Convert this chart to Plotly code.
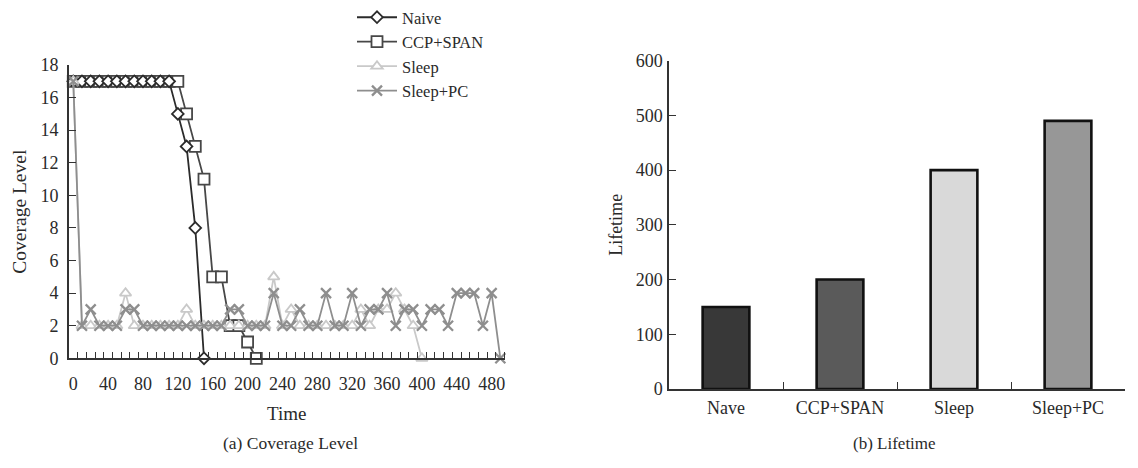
import plotly.graph_objects as go

# ---------------- data ----------------
time = [0, 10, 20, 30, 40, 50, 60, 70, 80, 90,
        100, 110, 120, 130, 140, 150, 160, 170, 180, 190,
        200, 210, 220, 230, 240, 250, 260, 270, 280, 290,
        300, 310, 320, 330, 340, 350, 360, 370, 380, 390,
        400, 410, 420, 430, 440, 450, 460, 470, 480, 490]

naive = [17, 17, 17, 17, 17, 17, 17, 17, 17, 17, 17, 17, 15, 13, 8, 0]

ccp_span = [17, 17, 17, 17, 17, 17, 17, 17, 17, 17, 17, 17, 17,
            15, 13, 11, 5, 5, 2, 2, 1, 0]

sleep = [17, 2, 2, 2, 2, 2, 4, 2, 2, 2,
         2, 2, 2, 3, 2, 2, 2, 2, 2, 2,
         2, 2, 2, 5, 2, 3, 2, 2, 2, 2,
         2, 2, 2, 3, 2, 3, 3, 4, 3, 2,
         0]

sleep_pc = [17, 2, 3, 2, 2, 2, 3, 3, 2, 2,
            2, 2, 2, 2, 2, 2, 2, 2, 3, 3,
            2, 2, 2, 4, 2, 2, 3, 2, 2, 4,
            2, 2, 4, 2, 3, 3, 4, 2, 3, 3,
            2, 3, 3, 2, 4, 4, 4, 2, 4, 0]

x_tick_labels = [0, 40, 80, 120, 160, 200, 240, 280, 320, 360, 400, 440, 480]

bar_categories = ["Nave", "CCP+SPAN", "Sleep", "Sleep+PC"]
lifetime = [150, 200, 400, 490]

# ---------------- styling ----------------
OFF = 8                      # default page body margin
W, H = 1138 - OFF, 468 - OFF
FONT = "Liberation Serif, Times New Roman, serif"
AX = "#333333"
TXT = "#2a2a2a"


def px(x):
    return (x - OFF) / W


def py(y):
    return 1 - (y - OFF) / H


fig = go.Figure()

series = [
    # name, y, line color, symbol, size, fill, rank
    ("CCP+SPAN", ccp_span, "#474747", "square", 11, "white", 2),
    ("Naive", naive, "#2b2b2b", "diamond", 9, "white", 1),
    ("Sleep", sleep, "#c9c9c9", "triangle-up", 10, "white", 3),
    ("Sleep+PC", sleep_pc, "#8e8e8e", "x-thin", 10, "#8e8e8e", 4),
]

for name, ys, col, sym, size, fill, rank in series:
    fig.add_trace(go.Scatter(
        x=time[:len(ys)], y=ys, name=name, mode="lines+markers",
        line=dict(color=col, width=1.8),
        marker=dict(symbol=sym, size=size, color=fill,
                    line=dict(color=col, width=2.3 if sym == "x-thin" else 1.8)),
        legendrank=rank, cliponaxis=False,
        xaxis="x", yaxis="y",
    ))

fig.add_trace(go.Bar(
    x=bar_categories, y=lifetime,
    marker=dict(color=["#383838", "#5a5a5a", "#d9d9d9", "#979797"],
                line=dict(color="#111111", width=2.6)),
    width=0.41, showlegend=False, xaxis="x2", yaxis="y2",
))

axis_common = dict(showline=True, linecolor=AX, linewidth=1.5, showgrid=False,
                   zeroline=False, tickfont=dict(family=FONT, size=18, color=TXT),
                   tickcolor=AX)

fig.update_layout(
    width=W, height=H, autosize=False,
    margin=dict(l=0, r=0, t=0, b=0, autoexpand=False),
    paper_bgcolor="white", plot_bgcolor="white",
    font=dict(family=FONT, size=16, color=TXT),
    xaxis=dict(
        **axis_common,
        domain=[px(68.9), px(504.7)], range=[-5, 495], anchor="y",
        tickmode="array", tickvals=x_tick_labels,
        ticktext=[str(v) for v in x_tick_labels],
        ticks="", ticklabelstandoff=8,
        minor=dict(tickmode="linear", tick0=-5, dtick=10, ticks="inside",
                   ticklen=7, tickwidth=1.3, tickcolor=AX),
        title=dict(text="Time", font=dict(family=FONT, size=19, color=TXT), standoff=14),
    ),
    yaxis=dict(
        **axis_common,
        domain=[py(358.3), py(65)], range=[0, 18], anchor="x",
        tickmode="linear", tick0=0, dtick=2, ticks="inside", ticklen=7, tickwidth=1.3,
        ticklabelstandoff=5,
        title=dict(text="Coverage Level", font=dict(family=FONT, size=19.5, color=TXT), standoff=9),
    ),
    xaxis2=dict(
        **axis_common,
        domain=[px(669), px(1125)], type="category", range=[-0.5, 3.5], anchor="y2",
        tickson="boundaries", ticks="inside", ticklen=7, tickwidth=1.3,
        ticklabelstandoff=2,
    ),
    yaxis2=dict(
        **axis_common,
        domain=[py(389), py(60.7)], range=[0, 600], anchor="x2",
        tickmode="linear", tick0=0, dtick=100, ticks="inside", ticklen=7, tickwidth=1.3,
        ticklabelstandoff=1,
        title=dict(text="Lifetime", font=dict(family=FONT, size=18, color=TXT), standoff=8),
    ),
    legend=dict(x=px(352), y=1 + 8 / H, xanchor="left", yanchor="top",
                font=dict(family=FONT, size=16.5, color=TXT),
                bgcolor="rgba(0,0,0,0)", traceorder="normal", itemwidth=40),
    bargap=0.59,
    annotations=[
        dict(text="(a) Coverage Level", x=px(290), y=py(443), xref="paper", yref="paper",
             showarrow=False, font=dict(family=FONT, size=17.5, color=TXT),
             xanchor="center", yanchor="middle"),
        dict(text="(b) Lifetime", x=px(894), y=py(443), xref="paper", yref="paper",
             showarrow=False, font=dict(family=FONT, size=17, color=TXT),
             xanchor="center", yanchor="middle"),
    ],
)

fig.write_html("out.html")
